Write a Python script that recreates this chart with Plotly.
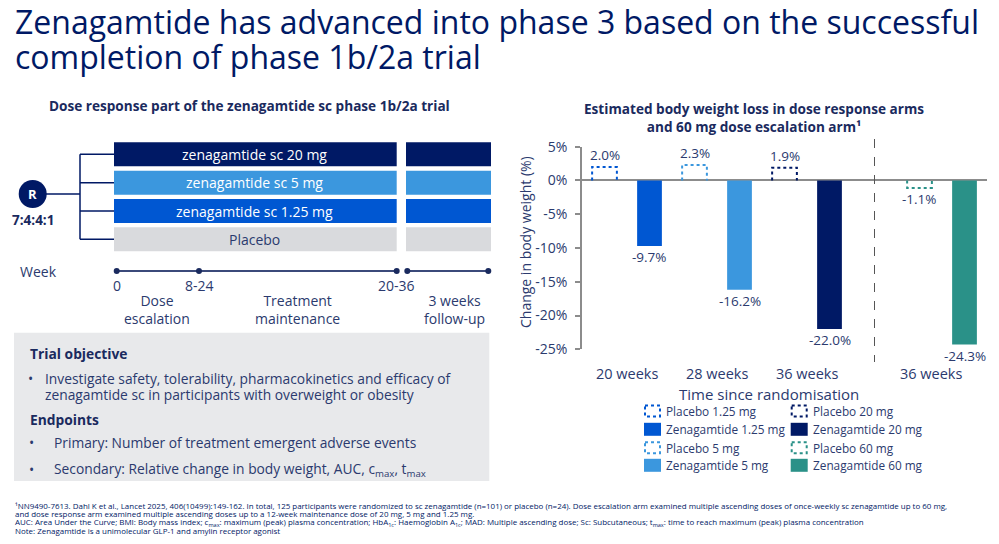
import plotly.graph_objects as go

# page is 999x544; the browser body has an 8px margin, so the figure is 983x528 placed at (8, 8)
PAGE_W, PAGE_H = 999, 544
OFF = 8
W, H = PAGE_W - 2 * OFF, PAGE_H - 2 * OFF

# ---------------- data ----------------
groups = ["20 weeks", "28 weeks", "36 weeks", "36 weeks"]
group_pos = [0.5, 2.5, 4.5, 7.25]
placebo_names = ["Placebo 1.25 mg", "Placebo 5 mg", "Placebo 20 mg", "Placebo 60 mg"]
zena_names = ["Zenagamtide 1.25 mg", "Zenagamtide 5 mg", "Zenagamtide 20 mg", "Zenagamtide 60 mg"]
placebo_vals = [2.0, 2.3, 1.9, -1.1]
zena_vals = [-9.7, -16.2, -22.0, -24.3]
placebo_x = [0, 2, 4, 7]
zena_x = [1, 3, 5, 8]
arm_colors = ["#0057D2", "#3B97DE", "#001965", "#2A9188"]
y_ticks = [5, 0, -5, -10, -15, -20, -25]
y_ticktext = ["5%", "0%", "-5%", "-10%", "-15%", "-20%", "-25%"]

arms = ["zenagamtide sc 20 mg", "zenagamtide sc 5 mg", "zenagamtide sc 1.25 mg", "Placebo"]
arm_box_colors = ["#001965", "#3B97DE", "#0057D2", "#D9DADD"]
week_labels = ["0", "8-24", "20-36"]
phase_labels = ["Dose<br>escalation", "Treatment<br>maintenance", "3 weeks<br>follow-up"]

NAVY = "#001965"
TXT = "#2B3A6E"
GRAY = "#8C8C8C"
FONT = "Open Sans"

def px(x):
    return (x - OFF) / W

def py(y):
    return 1 - (y - OFF) / H

fig = go.Figure()

BW = 0.55
fig.add_trace(go.Bar(x=zena_x, y=zena_vals, width=BW, marker=dict(color=arm_colors, line=dict(width=0)),
                     showlegend=False, hoverinfo="skip"))
for xv, v, c in zip(placebo_x, placebo_vals, arm_colors):
    fig.add_trace(go.Scatter(x=[xv - BW / 2, xv - BW / 2, xv + BW / 2, xv + BW / 2],
                             y=[0, v, v, 0], mode="lines",
                             line=dict(color=c, width=2, dash="dot"),
                             showlegend=False, hoverinfo="skip"))

ann = []

def txt(x, y, t, size, color=TXT, xa="center", ya="middle", family=FONT, **kw):
    ann.append(dict(x=px(x), y=py(y), xref="paper", yref="paper", text=t, showarrow=False,
                    xanchor=xa, yanchor=ya, font=dict(size=size, color=color, family=family), **kw))

# value labels
for xv, v in zip(placebo_x + zena_x, placebo_vals + zena_vals):
    ann.append(dict(x=xv, y=v, xref="x", yref="y", text=f"{v:.1f}%",
                    showarrow=False, xanchor="center", yanchor="bottom" if v > 0 else "top",
                    yshift=1 if v > 0 else 0,
                    font=dict(size=13.5, color=TXT, family=FONT)))
# category labels
for gx, g in zip(group_pos, groups):
    ann.append(dict(x=gx, y=py(373), xref="x", yref="paper", text=g, showarrow=False,
                    xanchor="center", yanchor="middle", font=dict(size=14.5, color=TXT, family=FONT)))
txt(769, 394, "Time since randomisation", 15)
txt(526, 242, "Change in body weight (%)", 14, textangle=-90)
txt(754, 117.5, "<b>Estimated body weight loss in dose response arms<br>and 60 mg dose escalation arm¹</b>",
    13.6, color="#1A2A5E")

shapes = []
shapes.append(dict(type="line", xref="x", yref="paper", x0=6, x1=6, y0=py(139), y1=py(362),
                   line=dict(color="#555555", width=1, dash="dash")))

# manual legend
leg_rows = [411, 429.3, 447.7, 465.3]
leg_items = [
    (0, 0, placebo_names[0], arm_colors[0], True),
    (0, 1, zena_names[0], arm_colors[0], False),
    (0, 2, placebo_names[1], arm_colors[1], True),
    (0, 3, zena_names[1], arm_colors[1], False),
    (1, 0, placebo_names[2], arm_colors[2], True),
    (1, 1, zena_names[2], arm_colors[2], False),
    (1, 2, placebo_names[3], arm_colors[3], True),
    (1, 3, zena_names[3], arm_colors[3], False),
]
col_x = [644, 790.7]
for col, row, name, c, dotted in leg_items:
    x0 = col_x[col]
    yc = leg_rows[row]
    if dotted:
        shapes.append(dict(type="rect", xref="paper", yref="paper", x0=px(x0 + 1), x1=px(x0 + 16),
                           y0=py(yc - 5.5), y1=py(yc + 5.5), line=dict(color=c, width=2, dash="dot"),
                           fillcolor="rgba(0,0,0,0)"))
    else:
        shapes.append(dict(type="rect", xref="paper", yref="paper", x0=px(x0), x1=px(x0 + 17),
                           y0=py(yc - 6.5), y1=py(yc + 6.5), line=dict(width=0), fillcolor=c))
    txt(x0 + 20, yc, name, 11.8, xa="left")

# ---------------- left diagram ----------------
txt(249, 106, "<b>Dose response part of the zenagamtide sc phase 1b/2a trial</b>", 13.6, color="#1A2A5E")
box_tops = [142.3, 170.7, 199, 227.3]
bh = 24
for i, (lab, c) in enumerate(zip(arms, arm_box_colors)):
    t = box_tops[i]
    shapes.append(dict(type="rect", xref="paper", yref="paper", x0=px(114), x1=px(396.7),
                       y0=py(t + bh), y1=py(t), line=dict(width=0), fillcolor=c))
    shapes.append(dict(type="rect", xref="paper", yref="paper", x0=px(406), x1=px(491),
                       y0=py(t + bh), y1=py(t), line=dict(width=0), fillcolor=c))
    txt(255, t + bh / 2, lab, 14, color="white" if i < 3 else TXT)
    shapes.append(dict(type="line", xref="paper", yref="paper", x0=px(80), x1=px(114),
                       y0=py(t + bh / 2), y1=py(t + bh / 2), line=dict(color=NAVY, width=1.5)))
shapes.append(dict(type="line", xref="paper", yref="paper", x0=px(80), x1=px(80),
                   y0=py(box_tops[0] + bh / 2), y1=py(box_tops[3] + bh / 2), line=dict(color=NAVY, width=1.5)))
shapes.append(dict(type="line", xref="paper", yref="paper", x0=px(40), x1=px(80),
                   y0=py(194), y1=py(194), line=dict(color=NAVY, width=1.5)))
shapes.append(dict(type="circle", xref="paper", yref="paper", x0=px(32.7 - 14), x1=px(32.7 + 14),
                   y0=py(194 + 14), y1=py(194 - 14), line=dict(width=0), fillcolor=NAVY))
txt(32.7, 194, "<b>R</b>", 13, color="white")
txt(33, 219.5, "<b>7:4:4:1</b>", 13.5, color="#1A2A5E")

# timeline
txt(39, 271, "Week", 14)
TL = "#3B4A7A"
for a, b in [(116.7, 396.7), (407.3, 488.3)]:
    shapes.append(dict(type="line", xref="paper", yref="paper", x0=px(a), x1=px(b),
                       y0=py(271), y1=py(271), line=dict(color=TL, width=2)))
for d in [116.7, 199, 396.7, 407.3, 488.3]:
    shapes.append(dict(type="circle", xref="paper", yref="paper", x0=px(d - 3), x1=px(d + 3),
                       y0=py(274), y1=py(268), line=dict(width=0), fillcolor="#1A2A5E"))
for xw, lab in zip([116.7, 199, 396.7], week_labels):
    txt(xw, 285, lab, 14)
for xw, lab in zip([157, 297.7, 454.3], phase_labels):
    txt(xw, 309.7, lab, 14)

# gray info box
shapes.append(dict(type="rect", xref="paper", yref="paper", x0=px(14), x1=px(489.3),
                   y0=py(481), y1=py(332.7), line=dict(width=0), fillcolor="#E8E9EB", layer="below"))
box_text = [
    (27.7, 353.3, "<b>Trial objective</b>"),
    (26, 378.3, "•"),
    (42.7, 378.3, "Investigate safety, tolerability, pharmacokinetics and efficacy of"),
    (42.7, 394.3, "zenagamtide sc in participants with overweight or obesity"),
    (27.7, 419, "<b>Endpoints</b>"),
    (27, 442.7, "•"),
    (51.7, 442.7, "Primary: Number of treatment emergent adverse events"),
    (27, 469, "•"),
    (51.7, 469, "Secondary: Relative change in body weight, AUC, c<sub>max</sub>, t<sub>max</sub>"),
]
for x0, y0, t in box_text:
    txt(x0, y0, t, 13.8, color="#1A2A5E" if "<b>" in t else TXT, xa="left")

# main title
txt(13, 22, "Zenagamtide has advanced into phase 3 based on the successful", 32, color=NAVY, xa="left")
txt(13, 56.5, "completion of phase 1b/2a trial", 32, color=NAVY, xa="left")

# footnotes
foot = [
    "¹NN9490-7613. Dahl K et al., Lancet 2025, 406(10499):149-162. In total, 125 participants were randomized to sc zenagamtide (n=101) or placebo (n=24). Dose escalation arm examined multiple ascending doses of once-weekly sc zenagamtide up to 60 mg,",
    "and dose response arm examined multiple ascending doses up to a 12-week maintenance dose of 20 mg, 5 mg and 1.25 mg.",
    "AUC: Area Under the Curve; BMI: Body mass index; c<sub>max</sub>: maximum (peak) plasma concentration; HbA<sub>1c</sub>: Haemoglobin A<sub>1c</sub>; MAD: Multiple ascending dose; Sc: Subcutaneous; t<sub>max</sub>: time to reach maximum (peak) plasma concentration",
    "Note: Zenagamtide is a unimolecular GLP-1 and amylin receptor agonist",
]
foot_y = [505.5, 514, 522.5, 531]
for yv, t in zip(foot_y, foot):
    txt(13, yv, t, 7.95, color=NAVY, xa="left")

fig.update_layout(
    width=W, height=H, margin=dict(l=0, r=0, t=0, b=0, autoexpand=False),
    paper_bgcolor="white", plot_bgcolor="white", showlegend=False,
    font=dict(family=FONT, color=TXT),
    xaxis=dict(domain=[px(582), px(987)], range=[-0.5, 8.5], showgrid=False, zeroline=False,
               showticklabels=False, showline=False, ticks="", fixedrange=True),
    yaxis=dict(domain=[py(349.3), py(146.7)], range=[-25, 5], tickvals=y_ticks, ticktext=y_ticktext,
               showgrid=False, zeroline=True, zerolinecolor=GRAY, zerolinewidth=1.5,
               showline=True, linecolor=GRAY, linewidth=1.5, ticks="outside", ticklen=5,
               tickcolor=GRAY, tickwidth=1.5, ticklabelstandoff=5,
               tickfont=dict(size=14, color=TXT, family=FONT)),
    annotations=ann, shapes=shapes,
)

fig.write_html("out.html")
